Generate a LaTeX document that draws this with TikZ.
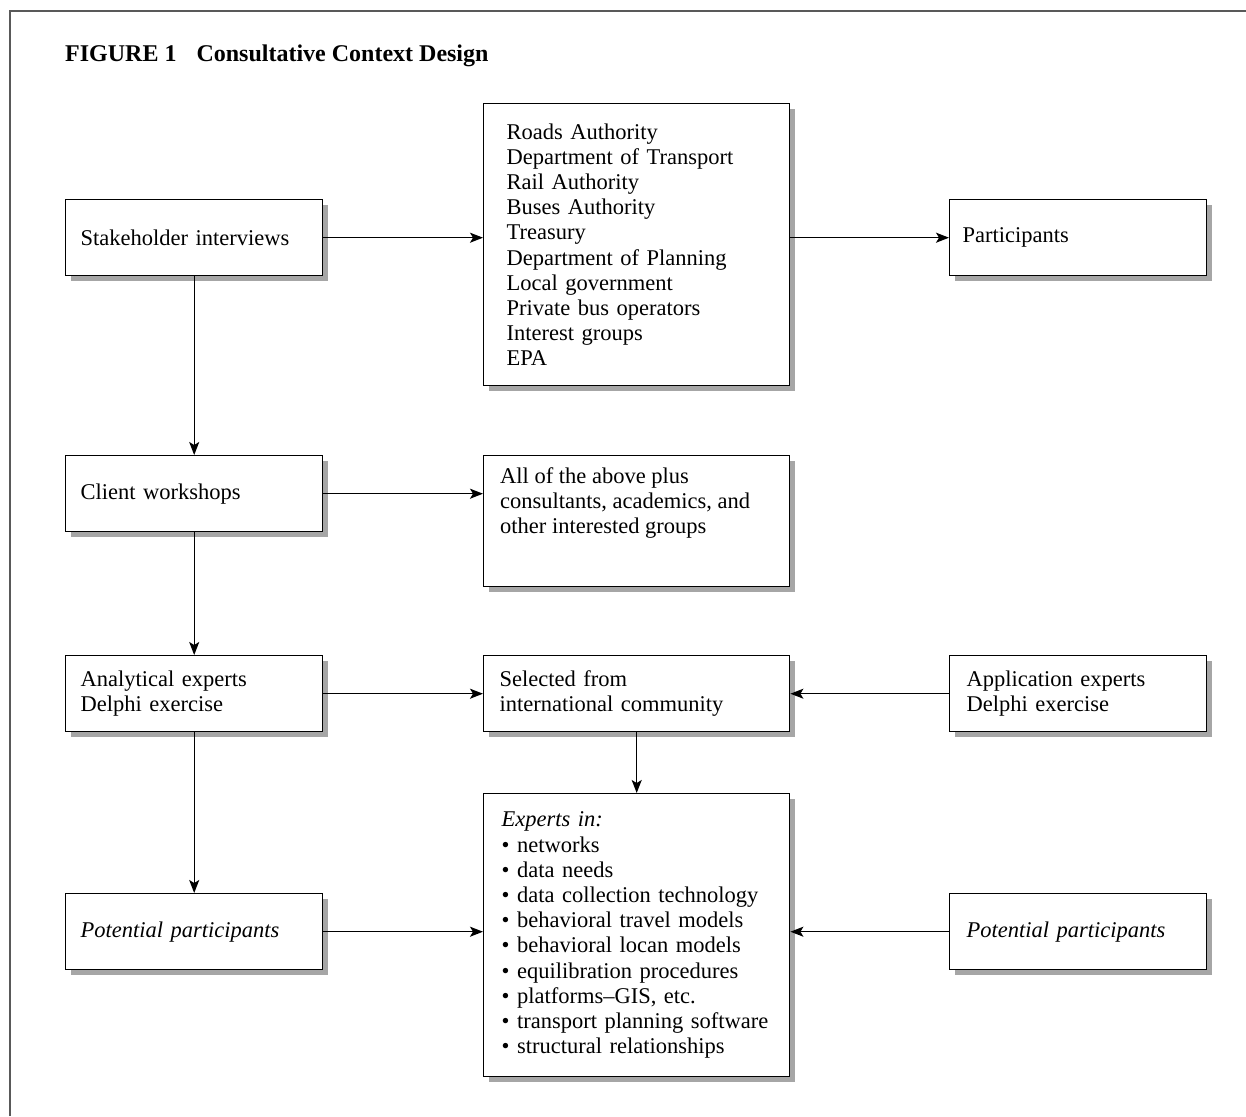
\documentclass[tikz,border=0pt]{standalone}
\usepackage{fontspec}
\setmainfont{Liberation Serif}
\usetikzlibrary{arrows.meta,shadows}
\newcommand{\txtfont}{\fontsize{22.5pt}{25.2pt}\selectfont}
\begin{document}
\begin{tikzpicture}[x=1pt,y=1pt,
  box/.style={draw, line width=1.4pt, fill=white, anchor=north west, align=left,
    inner xsep=15pt, inner ysep=0pt, font=\txtfont,
    drop shadow={shadow xshift=5pt, shadow yshift=-5pt, fill=black!35, opacity=1}},
  smallbox/.style={box, text width=227pt, minimum height=76pt},
  widebox/.style={box, text width=276pt},
  txt/.style={anchor=north west, align=left, inner sep=0pt, font=\txtfont},
  arr/.style={line width=1.3pt, -{Stealth[length=13pt,width=10pt,inset=3pt]}}
]
\useasboundingbox (0,0) rectangle (1246,-1116);
% frame
\draw[line width=2.5pt, black!65] (10,-1116) -- (10,-11) -- (1246,-11);
% title
\node[anchor=base west, inner sep=0pt, font=\bfseries\fontsize{24pt}{28pt}\selectfont] (title) at (65,-61)
  {FIGURE 1\hspace{20pt}Consultative Context Design};
% left column
\node[smallbox] (stake) at (65,-199) {Stakeholder interviews};
\node[smallbox] (client) at (65,-455) {Client workshops};
\node[smallbox] (anal) at (65,-655) {Analytical experts\\Delphi exercise};
\node[smallbox] (potl) at (65,-893) {\itshape Potential participants};
% middle column
\node[widebox, inner xsep=23pt, text width=260pt, minimum height=282pt] (auth) at (483,-103)
  {Roads Authority\\Department of Transport\\Rail Authority\\Buses Authority\\Treasury\\Department of Planning\\Local government\\Private bus operators\\Interest groups\\EPA};
\node[widebox, minimum height=131pt] (all) at (483,-455) {};
\node[txt] (allt) at (500,-467) {All of the above plus\\consultants, academics, and\\other interested groups};
\node[widebox, inner xsep=16pt, text width=274pt, minimum height=76pt] (sel) at (483,-655) {Selected from\\international community};
\node[widebox, inner xsep=18pt, text width=270pt, minimum height=283pt] (exp) at (483,-793)
  {\textit{Experts in:}\\\textbullet{} networks\\\textbullet{} data needs\\\textbullet{} data collection technology\\\textbullet{} behavioral travel models\\\textbullet{} behavioral locan models\\\textbullet{} equilibration procedures\\\textbullet{} platforms--GIS, etc.\\\textbullet{} transport planning software\\\textbullet{} structural relationships};
% right column
\node[smallbox, inner xsep=13pt, text width=231pt] (part) at (949,-199) {Participants};
\node[smallbox, inner xsep=17pt, text width=223pt] (appl) at (949,-655) {Application experts\\Delphi exercise};
\node[smallbox, inner xsep=17pt, text width=223pt] (potr) at (949,-893) {\itshape Potential participants};
% connectors
\draw[arr] (stake.east) -- (stake.east -| auth.west);
\draw[arr] (auth.east |- part.west) -- (part.west);
\draw[arr] (stake.south) -- (client.north);
\draw[arr] (client.east) -- (client.east -| all.west);
\draw[arr] (client.south) -- (anal.north);
\draw[arr] (anal.east) -- (sel.west);
\draw[arr] (appl.west) -- (sel.east);
\draw[arr] (sel.south) -- (exp.north);
\draw[arr] (anal.south) -- (potl.north);
\draw[arr] (potl.east) -- (potl.east -| exp.west);
\draw[arr] (potr.west) -- (potr.west -| exp.east);
\end{tikzpicture}
\end{document}
